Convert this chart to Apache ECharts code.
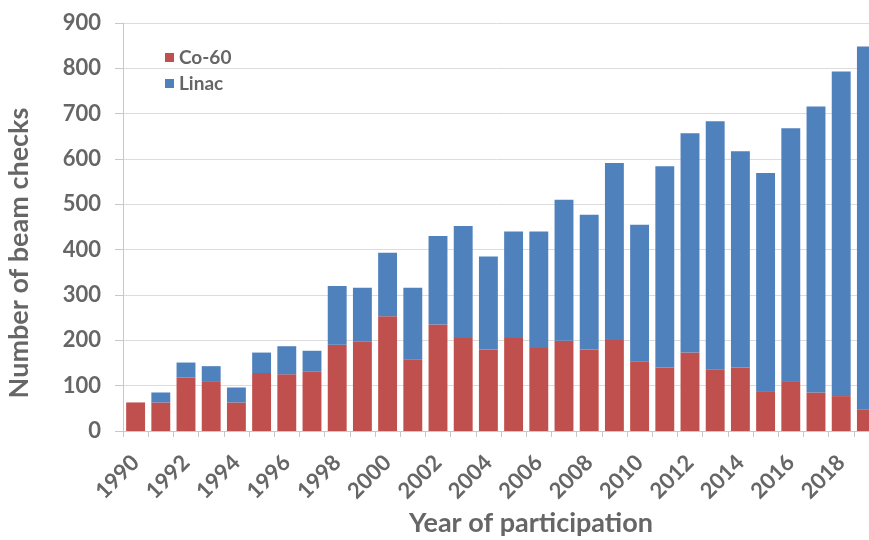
<!doctype html>
<html>
<head>
<meta charset="utf-8">
<style>
  html, body { margin: 0; padding: 0; background: #fff; }
  #chart-panel { width: 869px; height: 540px; }
</style>
<script src="https://cdn.jsdelivr.net/npm/echarts@6/dist/echarts.min.js"></script>
</head>
<body>
<div id="chart-panel"></div>
<script type="text/javascript">
// years of participation
var years = ['1990', '1991', '1992', '1993', '1994', '1995', '1996', '1997', '1998', '1999',
             '2000', '2001', '2002', '2003', '2004', '2005', '2006', '2007', '2008', '2009',
             '2010', '2011', '2012', '2013', '2014', '2015', '2016', '2017', '2018', '2019'];
// beam checks, Co-60 units
var co60 = [63, 63, 118, 110, 63, 128, 125, 132, 190, 198,
            253, 158, 235, 205, 180, 205, 183, 199, 180, 201,
            154, 140, 173, 136, 140, 88, 110, 85, 77, 48];
// beam checks, linacs
var linac = [0, 22, 33, 33, 33, 45, 62, 45, 130, 118,
             140, 158, 195, 247, 205, 235, 257, 311, 297, 390,
             301, 444, 484, 547, 477, 481, 558, 631, 716, 800];

var grey = '#666';
var font = 'Lato';

var myChart = echarts.init(document.getElementById('chart-panel'));
var option = {
    animation: false,
    textStyle: { fontFamily: font },
    // plot runs past the right edge, the 2019 bar is cut like in the source figure
    grid: {
        left: 123,
        width: 756,
        top: 23,
        bottom: 109,
        outerBoundsMode: 'none'
    },
    legend: {
        orient: 'vertical',
        left: 160,
        top: 43,
        itemWidth: 9,
        itemHeight: 9,
        itemGap: 7,
        icon: 'rect',
        textStyle: { color: grey, fontSize: 19, fontWeight: 'bold', fontFamily: font },
        data: ['Co-60', 'Linac']
    },
    xAxis: {
        type: 'category',
        data: years,
        name: 'Year of participation',
        nameLocation: 'middle',
        nameGap: 78,
        nameTextStyle: { color: grey, fontSize: 27, fontWeight: 'bold', padding: [0, 0, 0, 60] },
        axisLine: { lineStyle: { color: '#c8c8c8' } },
        axisTick: { show: true, length: 6, interval: 0, lineStyle: { color: '#c8c8c8' } },
        axisLabel: {
            interval: 1,
            rotate: 45,
            color: grey,
            fontSize: 22,
            fontWeight: 'bold',
            margin: 28
        }
    },
    yAxis: {
        type: 'value',
        min: 0,
        max: 900,
        interval: 100,
        name: 'Number of beam checks',
        nameLocation: 'middle',
        nameGap: 90,
        nameTextStyle: { color: grey, fontSize: 27, fontWeight: 'bold', padding: [0, 52, 0, 0] },
        axisLine: { show: true, lineStyle: { color: '#c8c8c8' } },
        axisTick: { show: true, length: 8, lineStyle: { color: '#c8c8c8' } },
        axisLabel: { color: grey, fontSize: 22, fontWeight: 'bold', margin: 22 },
        splitLine: { lineStyle: { color: '#dcdcdc' } }
    },
    series: [{
        name: 'Co-60',
        type: 'bar',
        stack: 'checks',
        barCategoryGap: '25%',
        itemStyle: { color: '#c0504d' },
        data: co60
    }, {
        name: 'Linac',
        type: 'bar',
        stack: 'checks',
        barCategoryGap: '25%',
        itemStyle: { color: '#4f81bd' },
        data: linac
    }]
};
myChart.setOption(option);
</script>
</body>
</html>
